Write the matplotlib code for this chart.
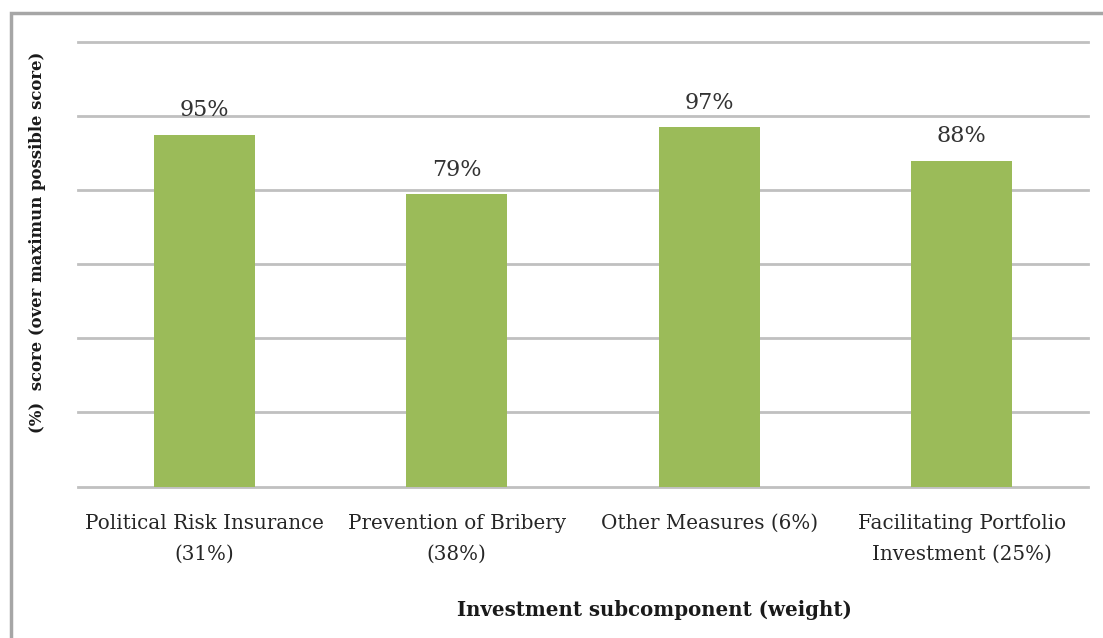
import matplotlib.pyplot as plt
from matplotlib.patches import Rectangle

categories = ['Political Risk Insurance\n(31%)', 'Prevention of Bribery\n(38%)',
              'Other Measures (6%)', 'Facilitating Portfolio\nInvestment (25%)']
scores = [95, 79, 97, 88]
labels = ['95%', '79%', '97%', '88%']

W, H = 1103, 638
fig = plt.figure(figsize=(W / 100, H / 100), dpi=100)
plt.rcParams['font.family'] = ['DejaVu Serif']

# outer frame (only top and left edges are inside the image)
fig.patches.append(Rectangle((11 / W, -0.1), 1.2, 1 - 13 / H + 0.1, transform=fig.transFigure,
                             fill=False, edgecolor='#a6a6a6', linewidth=2.5))

ax = fig.add_axes([78 / W, 1 - 486.5 / H, (1088 - 78) / W, (486.5 - 42) / H])
x = range(len(scores))
ax.bar(x, scores, width=0.4, color='#9bbb59', zorder=3)
for xi, v, t in zip(x, scores, labels):
    ax.text(xi, v + 3.6, t, ha='center', va='bottom', fontsize=16, color='#333333')

ax.set_ylim(0, 120)
ax.set_xlim(-0.5, 3.5)
ax.set_yticks(range(0, 121, 20))
ax.yaxis.grid(True, color='#c0c0c0', linewidth=2, zorder=0)
for gl in ax.get_ygridlines():
    gl.set_clip_on(False)
ax.set_yticklabels([])
ax.tick_params(axis='y', length=0)
ax.set_xticks(list(x))
ax.set_xticklabels(categories, fontsize=14.3, color='#262626', linespacing=1.75)
ax.tick_params(axis='x', length=0, pad=20)
for s in ax.spines.values():
    s.set_visible(False)

fig.text(38 / W, 1 - 242 / H, '(%)  score (over maximun possible score)', rotation=90,
         ha='center', va='center', fontsize=11.9, fontweight='bold', color='#1a1a1a')
fig.text(654 / W, 1 - 610 / H, 'Investment subcomponent (weight)', ha='center', va='center',
         fontsize=14.2, fontweight='bold', color='#1a1a1a')

fig.savefig('out.png', dpi=100)
